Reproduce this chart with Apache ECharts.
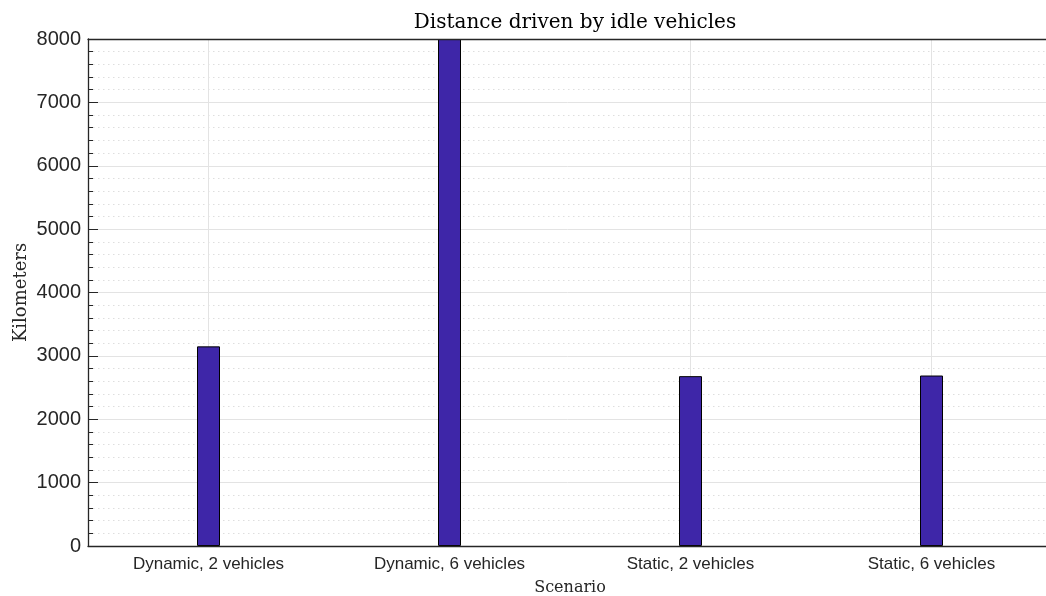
<!DOCTYPE html>
<html>
<head>
<meta charset="utf-8">
<script src="https://cdn.jsdelivr.net/npm/echarts@6/dist/echarts.min.js"></script>
<style>
  html, body { margin: 0; padding: 0; background: #ffffff; }
  #chart { width: 1046px; height: 596px; }
</style>
</head>
<body>
<div id="chart"></div>
<script>
// Scenario categories and idle-vehicle distance (km)
const scenarios = ['Dynamic, 2 vehicles', 'Dynamic, 6 vehicles', 'Static, 2 vehicles', 'Static, 6 vehicles'];
const kilometers = [3150, 8000, 2680, 2690];
const yTicks = [0, 1000, 2000, 3000, 4000, 5000, 6000, 7000, 8000];

const axisColor = '#262626';
const serif = '"DejaVu Serif", "Liberation Serif", serif';
const sans = '"Liberation Sans", Arial, sans-serif';

const chart = echarts.init(document.getElementById('chart'), null, { renderer: 'canvas' });

chart.setOption({
  animation: false,
  backgroundColor: '#ffffff',
  title: {
    text: 'Distance driven by idle vehicles',
    left: 570,
    textAlign: 'center',
    top: 8,
    textStyle: { fontFamily: serif, fontSize: 20, fontWeight: 'normal', color: '#000000' }
  },
  grid: { left: 88, right: -6, top: 39, bottom: 50, containLabel: false, outerBoundsMode: 'none' },
  xAxis: [
    {
      type: 'category',
      data: scenarios,
      position: 'bottom',
      z: 3,
      name: 'Scenario',
      nameLocation: 'middle',
      nameGap: 34,
      nameTextStyle: { fontFamily: serif, fontSize: 16, color: axisColor },
      axisLine: { lineStyle: { color: axisColor, width: 1.3 } },
      axisTick: { inside: true, length: 10, alignWithLabel: true, interval: 0, lineStyle: { color: axisColor } },
      axisLabel: { fontFamily: sans, fontSize: 17, color: axisColor, margin: 10, interval: 0 },
      splitLine: { show: false }
    },
    {
      type: 'category',
      data: scenarios,
      position: 'top',
      z: 3,
      axisLine: { lineStyle: { color: axisColor, width: 1.3 } },
      axisTick: { inside: true, length: 10, alignWithLabel: true, interval: 0, lineStyle: { color: axisColor } },
      axisLabel: { show: false },
      splitLine: { show: false }
    }
  ],
  yAxis: {
    type: 'value',
    min: yTicks[0],
    max: yTicks[yTicks.length - 1],
    interval: yTicks[1] - yTicks[0],
    name: 'Kilometers',
    nameLocation: 'middle',
    nameRotate: 90,
    nameGap: 58,
    nameMoveOverlap: false,
    nameTextStyle: { fontFamily: serif, fontSize: 18, color: axisColor },
    axisLine: { show: true, lineStyle: { color: axisColor, width: 1.3 } },
    axisTick: { show: true, inside: true, length: 10, lineStyle: { color: axisColor } },
    minorTick: { show: true, splitNumber: 5, length: 5, lineStyle: { color: axisColor } },
    axisLabel: { fontFamily: sans, fontSize: 20, color: axisColor, margin: 7, formatter: v => String(v) },
    splitLine: { show: true, lineStyle: { color: '#e3e3e3', width: 1 } },
    minorSplitLine: { show: true, lineStyle: { color: '#dedede', width: 1, type: [1.5, 3.5] } }
  },
  series: [
    {
      type: 'bar',
      xAxisIndex: 0,
      data: kilometers,
      barWidth: 23,
      clip: true,
      itemStyle: { color: '#3e26a8', borderColor: '#000000', borderWidth: 1 },
      markLine: {
        silent: true,
        z: 1,
        symbol: 'none',
        label: { show: false },
        lineStyle: { color: '#e3e3e3', type: 'solid', width: 1 },
        data: scenarios.map(s => ({ xAxis: s }))
      }
    }
  ]
});
</script>
</body>
</html>
